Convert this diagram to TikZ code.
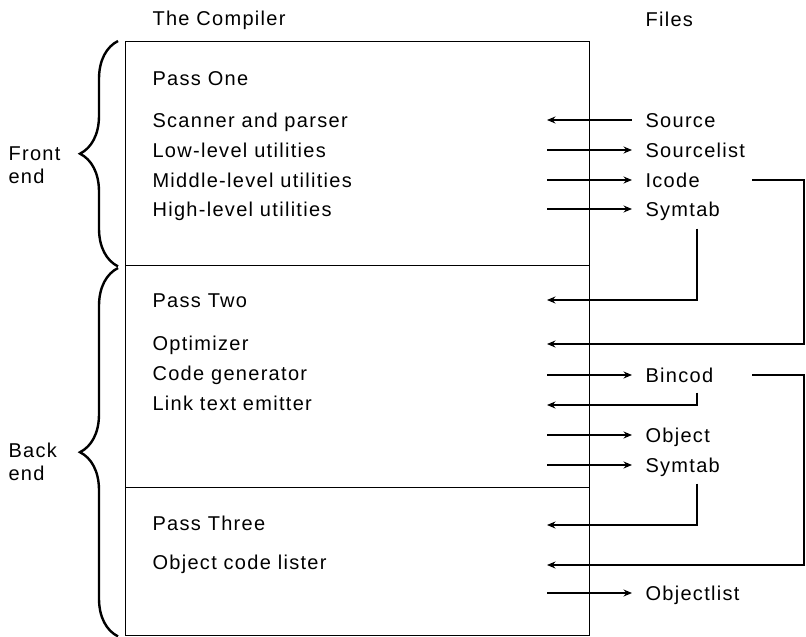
\documentclass[tikz,border=0pt]{standalone}
\usepackage{fontspec}
\setmainfont{Liberation Sans}[LetterSpace=6.5]
\usetikzlibrary{arrows.meta, decorations.pathreplacing, calc}

\begin{document}
\begin{tikzpicture}[x=1pt, y=-1pt, >={Stealth[length=8.5pt,width=7pt]}, line width=1.1pt,
   item/.style={font=\fontsize{20pt}{23pt}\selectfont, text height=14pt, text depth=0pt, inner sep=0pt, anchor=west},
   file/.style={item, inner xsep=13pt},
   side/.style={font=\fontsize{20pt}{23pt}\selectfont, align=left, inner sep=0pt, anchor=north west},
   passbox/.style={draw, line width=1.4pt, inner sep=0pt, minimum width=464pt, anchor=north west},
   part/.style={decorate, decoration={brace, amplitude=38pt, aspect=0.5}, line width=2.4pt}]

   \useasboundingbox (0,0) rectangle (806,637);

   % Passes
      \node[passbox, minimum height=224pt] (box1) at (125,41)  {};
      \node[passbox, minimum height=222pt] (box2) at (125,265) {};
      \node[passbox, minimum height=148pt] (box3) at (125,487) {};

   % Nodes
      \node[item] (comp)  at (152,18)  {The Compiler};
      \node[item] (files) at (645,19)  {Files};

      \node[item] (pone)  at (152,78)  {Pass One};
      \node[item] (scan)  at (152,120) {Scanner and parser};
      \node[item] (low)   at (152,150) {Low-level utilities};
      \node[item] (mid)   at (152,180) {Middle-level utilities};
      \node[item] (high)  at (152,209) {High-level utilities};

      \node[item] (ptwo)  at (152,300) {Pass Two};
      \node[item] (opt)   at (152,343) {Optimizer};
      \node[item] (cgen)  at (152,373) {Code generator};
      \node[item] (link)  at (152,403) {Link text emitter};

      \node[item] (pthr)  at (152,523) {Pass Three};
      \node[item] (ocl)   at (152,562) {Object code lister};

      \node[file] (src)   at (632,120) {Source};
      \node[file] (slist) at (632,150) {Sourcelist};
      \node[file] (icode) at (632,180) {Icode};
      \node[file] (sym1)  at (632,209) {Symtab};
      \node[file] (bin)   at (632,375) {Bincod};
      \node[file] (obj)   at (632,435) {Object};
      \node[file] (sym2)  at (632,465) {Symtab};
      \node[file] (olist) at (632,593) {Objectlist};

      \node[side] (front) at (8,146)  {Front\\end};
      \node[side] (back)  at (8,442)  {Back\\end};

      \coordinate (port) at (547,0);
      \coordinate (tap)  at (697,0);
      \coordinate (outx) at (752,0);
      \coordinate (bus)  at (804,0);

   % Braces
      \draw[part] ([xshift=-7pt]box1.south west) -- ([xshift=-7pt]box1.north west);
      \draw[part] ([xshift=-7pt]box3.south west) -- ([xshift=-7pt,yshift=-3pt]box2.north west);

   % Paths
      \draw[<-] (src.west -| port)   -- (src.west);
      \draw[->] (slist.west -| port) -- (slist.west);
      \draw[->] (icode.west -| port) -- (icode.west);
      \draw[->] (sym1.west -| port)  -- (sym1.west);
      \draw[->] ($(sym1.south -| tap)+(0,12)$) |- (ptwo.west -| port);
      \draw[->] (icode.west -| outx) -- (icode.west -| bus) |- ($(opt.west -| port)+(0,1)$);
      \draw[->] (bin.west -| port)   -- (bin.west);
      \draw[->] ($(bin.south -| tap)+(0,10)$) |- ($(link.west -| port)+(0,2)$);
      \draw[->] (obj.west -| port)   -- (obj.west);
      \draw[->] (sym2.west -| port)  -- (sym2.west);
      \draw[->] ($(sym2.south -| tap)+(0,11)$) |- ($(pthr.west -| port)+(0,2)$);
      \draw[->] (bin.west -| outx)   -- (bin.west -| bus) |- ($(ocl.west -| port)+(0,3)$);
      \draw[->] (olist.west -| port) -- (olist.west);
\end{tikzpicture}
\end{document}
